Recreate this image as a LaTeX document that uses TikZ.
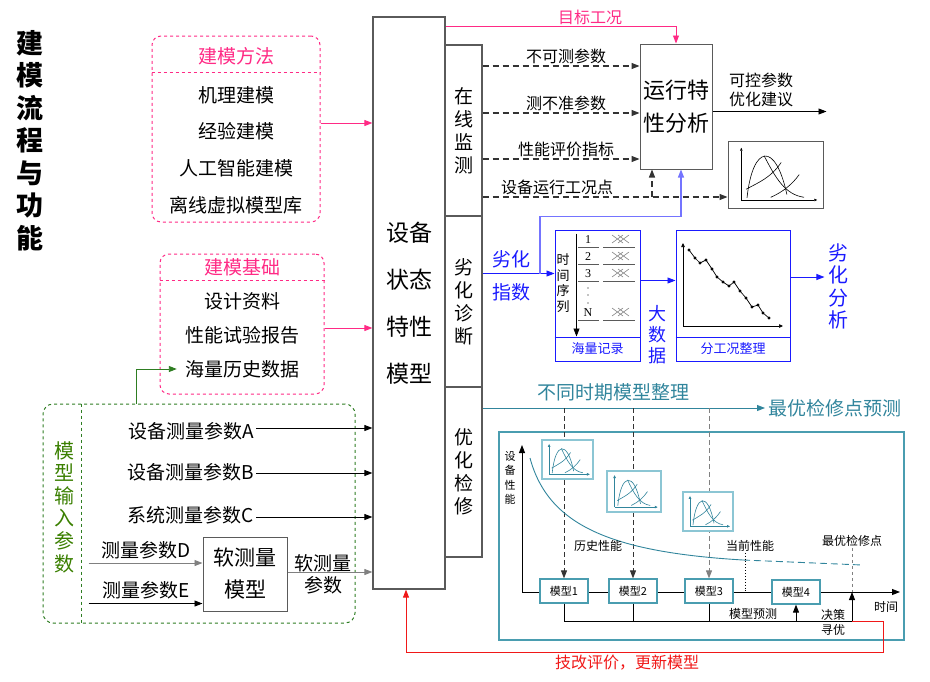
\documentclass[tikz,border=0pt]{standalone}
\usepackage{fontspec}
\setmainfont{Noto Sans CJK SC}
\newfontfamily\numfont{Liberation Serif}
\usetikzlibrary{positioning,arrows.meta,calc}
\definecolor{pinkc}{HTML}{FF2A85}
\definecolor{greenc}{HTML}{2E7D22}
\definecolor{greent}{HTML}{3A7F00}
\definecolor{bluec}{HTML}{1A1AFF}
\definecolor{lbluec}{HTML}{7474FF}
\definecolor{tealc}{HTML}{31859C}
\definecolor{tealb}{HTML}{4A9DB0}
\definecolor{teall}{HTML}{8CC6D4}
\definecolor{blkc}{HTML}{5A5A5A}
\definecolor{redc}{HTML}{F01818}
\newcommand{\fs}[2]{\fontsize{#1}{#2}\selectfont}
% curves of a small performance chart, unit square, y down
\newcommand{\sketchcurves}{%
  \draw (0.2,0.85) .. controls (0.26,0.05) and (0.5,0.0) .. (0.62,0.8);
  \draw (0.19,0.72) .. controls (0.32,0.62) and (0.45,0.55) .. (0.56,0.32);
  \draw (0.38,0.22) .. controls (0.5,0.55) and (0.6,0.8) .. (0.8,0.84);
  \draw (0.45,0.84) .. controls (0.58,0.76) and (0.68,0.64) .. (0.75,0.5);
}
\newcommand{\minichart}[5]{%
  \begin{scope}[shift={(#1,#2)}, xscale=#3, yscale=#4, #5]
    \draw[line width=0.7pt, -{Triangle[length=3pt,width=2.5pt]}] (0.14,0.88) -- (0.14,0.1);
    \draw[line width=0.7pt, -{Triangle[length=3pt,width=2.5pt]}] (0.14,0.88) -- (0.94,0.88);
    \sketchcurves
  \end{scope}}
\newcommand{\xxmark}[2]{%
  \draw[gray, line width=0.6pt] (#1-8.5,#2-4) -- (#1+2.5,#2+4) (#1-8.5,#2+4) -- (#1+2.5,#2-4)
    (#1-2.5,#2-4) -- (#1+8.5,#2+4) (#1-2.5,#2+4) -- (#1+8.5,#2-4);}

\begin{document}
\begin{tikzpicture}[x=1pt, y=-1pt,
  blk/.style={draw=blkc, line width=1.2pt, fill=white, inner sep=0pt},
  pbox/.style={draw=pinkc, dashed, line width=1pt, rounded corners=9pt},
  gbox/.style={draw=greenc, dashed, line width=1pt, rounded corners=10pt},
  bbox/.style={draw=bluec, line width=1pt, inner sep=0pt},
  mbox/.style={draw=tealb, line width=1.2pt, fill=white, minimum width=48pt,
    minimum height=24pt, inner sep=0pt, font=\fs{11}{13}},
  cbox/.style={draw=teall, line width=1.6pt, fill=white},
  arr/.style={-{Triangle[length=8pt,width=6pt]}, line width=0.9pt},
  garr/.style={arr, draw=gray},
  parr/.style={arr, draw=pinkc},
  darr/.style={arr, dash pattern=on 6pt off 4pt, line width=1.1pt, draw=black!80},
  barr/.style={arr, draw=bluec},
  tarr/.style={arr, draw=tealc},
  t19/.style={font=\fs{19}{23}, inner sep=2pt},
  t16/.style={font=\fs{16}{20}, inner sep=2pt},
  t12/.style={font=\fs{12}{14.5}, inner sep=1pt}
]
\useasboundingbox (0,0) rectangle (930,681);

\node[font=\bfseries\fs{27}{32.5}, align=center] (title) at (30,140.5)
  {建\\模\\流\\程\\与\\功\\能};

% modelling methods and basis
\node[pbox, minimum width=168pt, minimum height=186pt] (method) at (236,129) {};
\draw[pinkc, dashed, line width=1pt] ($(method.north west)+(0,37)$) -- ($(method.north east)+(0,37)$);
\node[t19, text=pinkc] (m0) at (236,56) {建模方法};
\node[t19] (m1) at (236,95) {机理建模};
\node[t19] (m2) at (236,131) {经验建模};
\node[t19] (m3) at (236,168) {人工智能建模};
\node[t19] (m4) at (236,205) {离线虚拟模型库};

\node[pbox, minimum width=164pt, minimum height=140pt] (basis) at (242,324) {};
\draw[pinkc, dashed, line width=1pt] ($(basis.north west)+(0,27)$) -- ($(basis.north east)+(0,27)$);
\node[t19, text=pinkc] (b0) at (242,267) {建模基础};
\node[t19] (b1) at (242,301) {设计资料};
\node[t19] (b2) at (242,335) {性能试验报告};
\node[t19] (b3) at (242,369) {海量历史数据};

% central model and its three functions
\node[blk, minimum width=72pt, minimum height=572pt, font=\fs{23}{47}, align=center]
  (model) at (409,303) {设备\\状态\\特性\\模型};
\node[blk, minimum width=37pt, minimum height=171pt, font=\fs{19}{23}, align=center]
  (online) at (463.5,130.5) {在\\线\\监\\测};
\node[blk, minimum width=37pt, minimum height=171pt, font=\fs{19}{23}, align=center]
  (diag) at (463.5,301.5) {劣\\化\\诊\\断};
\node[blk, minimum width=37pt, minimum height=170pt, font=\fs{19}{23}, align=center]
  (maint) at (463.5,472) {优\\化\\检\\修};

\draw[parr] ([yshift=6pt]method.east) -- ([yshift=6pt]method.east -| model.west);
\draw[parr] ([yshift=-4pt]basis.east) -- ([yshift=-4pt]basis.east -| model.west);

% model inputs
\node[gbox, minimum width=312pt, minimum height=219pt] (inputs) at (199,513.5) {};
\draw[greenc, dashed, line width=1pt] ($(inputs.north west)+(39,0)$) -- ($(inputs.south west)+(39,0)$);
\node[font=\fs{20}{22.6}, text=greent, align=center] (gl) at (64,507) {模\\型\\输\\入\\参\\数};
\draw[arr, draw=greenc] ($(inputs.north west)+(94,0)$) |- ([xshift=-6pt]b3.west);

\node[t19, anchor=east] (inA) at (256,431) {设备测量参数A};
\node[t19, anchor=east] (inB) at (256,472) {设备测量参数B};
\node[t19, anchor=east] (inC) at (256,515) {系统测量参数C};
\draw[arr] ([yshift=3pt]inA.east) -- ([yshift=3pt]inA.east -| model.west);
\draw[arr] ([yshift=-1pt]inB.east) -- ([yshift=-1pt]inB.east -| model.west);
\draw[arr] ([yshift=-2pt]inC.east) -- ([yshift=-2pt]inC.east -| model.west);

\node[blk, line width=1pt, minimum width=84pt, minimum height=74pt, font=\fs{21}{32}, align=center]
  (soft) at (245,574) {软测量\\模型};
\node[t19] (inD) at (146,550) {测量参数D};
\node[t19] (inE) at (146,590) {测量参数E};
\draw[garr] ($(inputs.west |- inD.south)+(46,2)$) -- ($(soft.west |- inD.south)+(0,2)$);
\draw[arr] ($(inputs.west |- inE.south)+(46,2.5)$) -- ($(soft.west |- inE.south)+(0,2.5)$);
\node[font=\fs{19}{22}, align=center] (so) at (323,574) {软测量\\参数};
\draw[garr] ([yshift=2pt]soft.east) -- ([yshift=2pt]soft.east -| model.west);

% online monitoring
\node[blk, line width=1pt, minimum width=72pt, minimum height=125pt, font=\fs{22}{33}, align=center]
  (run) at (676,106.5) {运行特\\性分析};
\node[t16, text=pinkc] (goal) at (590,17) {目标工况};
\draw[parr] ([yshift=-10pt]model.north east) -| (run.north);

\node[t16, anchor=south] (p1) at (566,66) {不可测参数};
\node[t16, anchor=south] (p2) at (566,113) {测不准参数};
\node[t16, anchor=south] (p3) at (566,159) {性能评价指标};
\node[t16, anchor=south] (p4) at (557,197) {设备运行工况点};
\draw[darr] (p1.south -| online.east) -- (p1.south -| run.west);
\draw[darr] (p2.south -| online.east) -- (p2.south -| run.west);
\draw[darr] (p3.south -| online.east) -- (p3.south -| run.west);

\node[draw=blkc, line width=1pt, minimum width=95pt, minimum height=67pt] (chart0) at (775.5,174.5) {};
\minichart{728}{141}{95}{67}{line width=0.6pt}
\draw[darr] (p4.south -| online.east) -- (p4.south -| chart0.west);
\draw[darr] ([xshift=-24pt]run.south |- p4.south) -- ([xshift=-24pt]run.south);

\draw[arr] ([yshift=-5pt]run.east) -- ++(114,0);
\node[t16, anchor=west, align=left, font=\fs{16}{19}] (adv) at (727,90) {可控参数\\优化建议};

% degradation diagnosis
\node[font=\fs{19}{23}, text=bluec] (li1) at (511,259) {劣化};
\node[font=\fs{19}{23}, text=bluec] (li2) at (511,292) {指数};
\node[bbox, minimum width=85pt, minimum height=131pt] (rec) at (597.5,295.5) {};
\node[bbox, minimum width=114pt, minimum height=131pt] (split) at (733,295.5) {};
\draw[barr] ([yshift=28pt]diag.east) -- ([yshift=28pt]diag.east -| rec.west);
\draw[arr, draw=lbluec, line width=1.2pt] ([yshift=28pt]diag.east -| 540,0) -- ++(0,-57) -| ([xshift=5pt]run.south);

\draw[bluec, line width=1pt] ($(rec.south west)+(0,-24)$) -- ($(rec.south east)+(0,-24)$);
\draw[bluec, line width=1pt] ($(split.south west)+(0,-24)$) -- ($(split.south east)+(0,-24)$);
\node[font=\fs{13}{15}, text=bluec] (recl) at (597.5,349) {海量记录};
\node[font=\fs{13}{15}, text=bluec] (splitl) at (733,349) {分工况整理};

\draw[arr, line width=0.8pt] ($(rec.north west)+(22,4)$) -- ($(rec.south west)+(22,-25)$);
\node[font=\fs{13}{15.6}, align=center] (ts) at (563,283) {时\\间\\序\\列};
\foreach \n/\y in {1/240,2/257,3/274,N/313}{
  \node[font=\numfont\fs{12}{14}, inner sep=0pt] (r\n) at (588,\y) {\n};
  \draw[blkc, line width=1pt] (578,\y+7) -- (599,\y+7);
  \draw[blkc, line width=1pt] (603,\y+7) -- (635,\y+7);
  \xxmark{620.5}{\y-1}
}
\foreach \y in {288,295,303} \fill (588,\y) circle (0.6pt);

\draw[line width=0.7pt, -{Triangle[length=4pt,width=3.5pt]}] (683,326) -- (683,243);
\draw[line width=0.7pt, -{Triangle[length=4pt,width=3.5pt]}] (683,326) -- (783,326);
\draw[line width=0.7pt] plot[mark=*, mark size=1.1pt] coordinates {(689,250) (695,258) (700,263)
  (706,260) (712,269) (717,277) (723,282) (729,286) (734,282) (740,291) (746,298)
  (752,307) (758,305) (763,313) (769,318)};

\draw[barr] ([yshift=15pt]rec.east) -- ([yshift=15pt]rec.east -| split.west);
\node[font=\fs{18}{21}, text=bluec, align=center] (bd) at (657,335) {大\\数\\据};
\node[font=\fs{20}{22.5}, text=bluec, align=center] (la) at (838,286.5) {劣\\化\\分\\析};
\draw[barr] ([yshift=18.5pt]split.east) -- ([yshift=18.5pt]split.east -| la.west);

% optimal maintenance
\node[font=\fs{19}{23}, text=tealc] (tl) at (613,392) {不同时期模型整理};
\node[font=\fs{19}{23}, text=tealc, anchor=west] (opt) at (765,408) {最优检修点预测};
\draw[tarr] (maint.east |- opt.west) -- (opt.west);
\node[draw=tealb, line width=1.2pt, minimum width=405pt, minimum height=208pt] (panel) at (701.5,536) {};

\coordinate (o) at (522,592);
\coordinate (ytop) at (522,445);
\coordinate (xend) at (900,592);
\coordinate (dec) at (852,621);
\draw[arr] (o) -- (ytop);
\draw[arr] (o) -- (xend);

\node[mbox] (mod1) at (564,591) {模型1};
\node[mbox] (mod2) at (633,591) {模型2};
\node[mbox] (mod3) at (709,591) {模型3};
\node[mbox] (mod4) at (796,592) {模型4};

\draw[darr, line width=0.9pt, dash pattern=on 5pt off 3pt] (mod1.north |- opt.west) -- (mod1.north);
\draw[darr, line width=0.9pt, dash pattern=on 5pt off 3pt] (mod2.north |- opt.west) -- (mod2.north);
\draw[darr, line width=0.9pt, dash pattern=on 5pt off 3pt, draw=gray] (mod3.north |- opt.west) -- (mod3.north);

\node[font=\fs{11}{14.5}, align=center] (yl) at (510,478) {设\\备\\性\\能};
\node[t12] (tx) at (886,607) {时间};

\draw[tealc, line width=0.9pt] (530,458) .. controls (548,525) and (610,552) .. (743,560);
\draw[tealc, line width=0.9pt, dash pattern=on 7pt off 4pt] (743,560) -- (862,565);

\node[cbox, minimum width=51pt, minimum height=39pt] (c1) at (567.5,459.5) {};
\node[cbox, minimum width=54pt, minimum height=41pt] (c2) at (634,491.5) {};
\node[cbox, minimum width=50pt, minimum height=39pt] (c3) at (708,511.5) {};
\minichart{542}{440}{51}{39}{draw=tealc, line width=0.6pt}
\minichart{607}{471}{54}{41}{draw=tealc, line width=0.6pt}
\minichart{683}{492}{50}{39}{draw=tealc, line width=0.6pt}

\node[t12] (hist) at (598,546) {历史性能};
\node[t12] (cur) at (750,546) {当前性能};
\node[t12] (best) at (852,541) {最优检修点};
\node[t12] (pred) at (753,614) {模型预测};
\node[t12, align=center, font=\fs{12}{15}] (opt2) at (833,622.5) {决策\\寻优};

\draw[dotted, line width=0.9pt] ([xshift=-5pt]cur.south) -- ++(0,40);
\draw[dashed, gray, line width=0.9pt] (dec |- best.south) -- (dec |- o);

\draw[line width=0.9pt] (mod1.south) |- (dec);
\draw[line width=0.9pt] (mod2.south) -- (mod2.south |- dec);
\draw[line width=0.9pt] (mod3.south) -- (mod3.south |- dec);
\draw[arr] (mod4.south |- dec) -- (mod4.south);
\draw[arr] (dec) -- (dec |- o);

\draw[arr, draw=redc] (dec) -- ++(31,0) -- ++(0,31) -| ([xshift=-3pt]model.south);
\node[t16, text=redc] (upd) at (627,663) {技改评价，更新模型};
\end{tikzpicture}
\end{document}
